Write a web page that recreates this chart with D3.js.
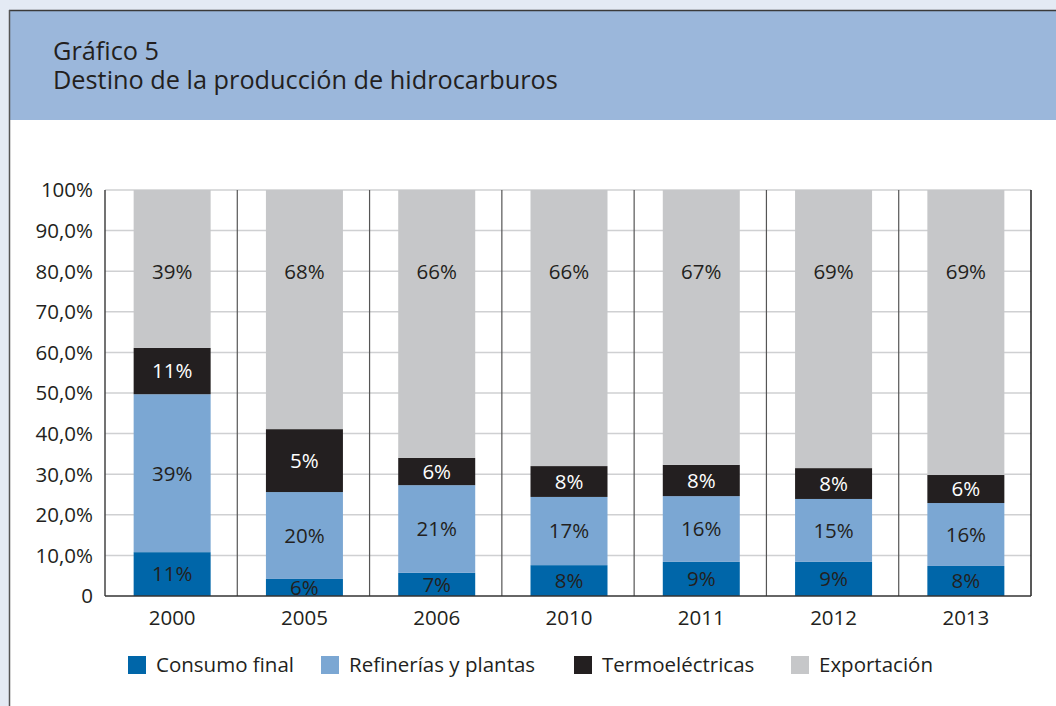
<!DOCTYPE html>
<html>
<head>
<meta charset="utf-8">
<script src="https://cdn.jsdelivr.net/npm/d3@7"></script>
<style>
  body { margin: 0; background: #e4eaf4; }
  svg { display: block; }
</style>
</head>
<body>
<div id="chart"></div>
<script>
// data (heights of the stacked segments, in %)
var years = ["2000", "2005", "2006", "2010", "2011", "2012", "2013"];
var consumo = [10.8, 4.2, 5.7, 7.6, 8.4, 8.4, 7.4];
var refinerias = [38.9, 21.4, 21.6, 16.8, 16.2, 15.5, 15.5];
var termo = [11.4, 15.5, 6.7, 7.6, 7.7, 7.6, 6.9];
var exportacion = [38.9, 58.9, 66.0, 68.0, 67.7, 68.5, 70.2];
// printed labels (they do not always match the heights)
var consumoLbl = ["11%", "6%", "7%", "8%", "9%", "9%", "8%"];
var refineriasLbl = ["39%", "20%", "21%", "17%", "16%", "15%", "16%"];
var termoLbl = ["11%", "5%", "6%", "8%", "8%", "8%", "6%"];
var exportacionLbl = ["39%", "68%", "66%", "66%", "67%", "69%", "69%"];
var seriesNames = ["Consumo final", "Refinerías y plantas", "Termoeléctricas", "Exportación"];
var yTicks = [0, 10, 20, 30, 40, 50, 60, 70, 80, 90, 100];

var W = 1056, H = 706;
var colors = ["#0066a9", "#7ba7d3", "#231f20", "#c6c7c9"];
var labelColors = ["#231f20", "#231f20", "#ffffff", "#231f20"];
var font = "'Open Sans', sans-serif";
var fs = 20.5;

var rows = years.map(function(y, i) {
    return {year: y, s0: consumo[i], s1: refinerias[i], s2: termo[i], s3: exportacion[i],
        l0: consumoLbl[i], l1: refineriasLbl[i], l2: termoLbl[i], l3: exportacionLbl[i]};
});
var keys = ["s0", "s1", "s2", "s3"];
var stacked = d3.stack().keys(keys)(rows);

var svg = d3.select("#chart").append("svg")
    .attr("width", W)
    .attr("height", H);

// frame
svg.append("rect").attr("x", 10).attr("y", 11).attr("width", W - 10).attr("height", H - 11)
    .attr("fill", "#ffffff");
svg.append("rect").attr("x", 10).attr("y", 11).attr("width", W - 10).attr("height", 109)
    .attr("fill", "#9bb7db");
svg.append("line").attr("x1", 9).attr("x2", W).attr("y1", 10.5).attr("y2", 10.5)
    .attr("stroke", "#3a3a3a").attr("stroke-width", 1.5);
svg.append("line").attr("x1", 9.5).attr("x2", 9.5).attr("y1", 10).attr("y2", H)
    .attr("stroke", "#555").attr("stroke-width", 1.5);

svg.append("text").attr("x", 53).attr("y", 60)
    .attr("font-family", font).attr("font-size", 25.3).attr("fill", "#231f20")
    .text("Gráfico 5");
svg.append("text").attr("x", 53).attr("y", 89)
    .attr("font-family", font).attr("font-size", 25.3).attr("fill", "#231f20")
    .text("Destino de la producción de hidrocarburos");

var plotL = 105, plotR = 1031, plotT = 190, plotB = 596;

var x = d3.scaleBand().domain(years).range([plotL, plotR]).paddingInner(0).paddingOuter(0);
var y = d3.scaleLinear().domain([0, 100]).range([plotB, plotT]);
var barW = 77;

// grid
svg.append("g").selectAll("line")
    .data(yTicks.filter(function(d) { return d > 0; }))
    .enter().append("line")
    .attr("x1", plotL).attr("x2", plotR)
    .attr("y1", function(d) { return y(d); })
    .attr("y2", function(d) { return y(d); })
    .attr("stroke", "#cfd0d2").attr("stroke-width", 1.5);

// category separators
svg.append("g").selectAll("line")
    .data(years.slice(1))
    .enter().append("line")
    .attr("x1", function(d) { return x(d); })
    .attr("x2", function(d) { return x(d); })
    .attr("y1", plotT).attr("y2", plotB)
    .attr("stroke", "#555").attr("stroke-width", 1.2);

// bars
var layer = svg.append("g").selectAll("g")
    .data(stacked)
    .enter().append("g")
    .attr("fill", function(d, i) { return colors[i]; });

layer.selectAll("rect")
    .data(function(d) { return d; })
    .enter().append("rect")
    .attr("x", function(d) { return x(d.data.year) + x.bandwidth() / 2 - barW / 2 + 1; })
    .attr("width", barW)
    .attr("y", function(d) { return y(d[1]); })
    .attr("height", function(d) { return y(d[0]) - y(d[1]); });

// segment labels (the export ones all sit at the same height in the original)
stacked.forEach(function(s, i) {
    svg.append("g").selectAll("text")
        .data(s)
        .enter().append("text")
        .attr("x", function(d) { return x(d.data.year) + x.bandwidth() / 2 + 1; })
        .attr("y", function(d) { return i === 3 ? y(80) : (y(d[0]) + y(d[1])) / 2; })
        .attr("dy", "0.36em")
        .attr("text-anchor", "middle")
        .attr("font-family", font).attr("font-size", fs)
        .attr("fill", labelColors[i])
        .text(function(d) { return d.data["l" + i]; });
});

// axes lines
svg.append("line").attr("x1", plotL).attr("x2", plotL).attr("y1", plotT).attr("y2", plotB)
    .attr("stroke", "#444").attr("stroke-width", 1.5);
svg.append("line").attr("x1", plotR).attr("x2", plotR).attr("y1", plotT).attr("y2", plotB)
    .attr("stroke", "#222").attr("stroke-width", 1.5);
svg.append("line").attr("x1", plotL).attr("x2", plotR).attr("y1", plotB).attr("y2", plotB)
    .attr("stroke", "#333").attr("stroke-width", 1.5);

// y tick labels
svg.append("g").selectAll("text")
    .data(yTicks)
    .enter().append("text")
    .attr("x", 93)
    .attr("y", function(d) { return y(d); })
    .attr("dy", "0.36em")
    .attr("text-anchor", "end")
    .attr("font-family", font).attr("font-size", fs).attr("fill", "#231f20")
    .text(function(d) {
        if (d === 0) return "0";
        if (d === 100) return "100%";
        return d + ",0%";
    });

// x labels
svg.append("g").selectAll("text")
    .data(years)
    .enter().append("text")
    .attr("x", function(d) { return x(d) + x.bandwidth() / 2 + 1; })
    .attr("y", 625)
    .attr("text-anchor", "middle")
    .attr("font-family", font).attr("font-size", fs).attr("fill", "#231f20")
    .text(function(d) { return d; });

// legend
var legX = [128, 321, 574, 791];
var leg = svg.append("g").selectAll("g")
    .data(seriesNames)
    .enter().append("g")
    .attr("transform", function(d, i) { return "translate(" + legX[i] + ",656)"; });
leg.append("rect").attr("width", 18).attr("height", 18)
    .attr("fill", function(d, i) { return colors[i]; });
leg.append("text").attr("x", 28).attr("y", 16)
    .attr("font-family", font).attr("font-size", fs).attr("fill", "#231f20")
    .text(function(d) { return d; });
</script>
</body>
</html>
